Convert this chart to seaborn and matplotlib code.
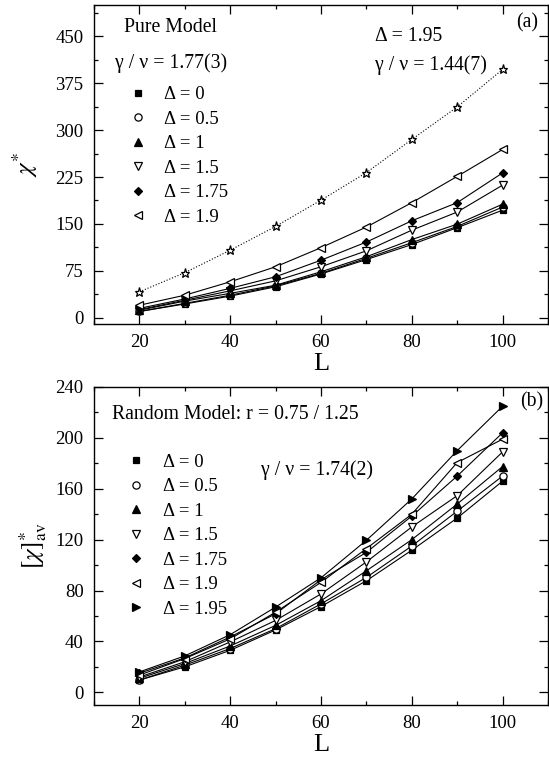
import matplotlib
matplotlib.use("Agg")
import matplotlib.pyplot as plt
from matplotlib.lines import Line2D
from matplotlib.ticker import MultipleLocator
import seaborn as sns

# System sizes
L = [20, 30, 40, 50, 60, 70, 80, 90, 100]

# Pure model: chi* for each anisotropy Delta
pure_d0 = [10, 22, 34.6, 49.5, 70, 93, 117, 144, 172]
pure_d05 = [10, 23, 36, 51, 71, 95, 120, 146, 177]
pure_d1 = [12, 26.6, 39, 52, 73.5, 97.5, 125, 149.6, 181.6]
pure_d15 = [13, 28, 43, 59, 81.5, 107, 140, 169, 212]
pure_d175 = [15, 30, 47, 65.5, 92, 121, 155, 184, 231.6]
pure_d19 = [20, 36, 57.5, 81.5, 112, 145, 184, 226, 269]
pure_d195 = [41.5, 72, 108, 146, 188, 232, 285, 337, 397]

# Random model: disorder-averaged [chi]*_av
rand_d0 = [9.6, 20, 33, 49, 67.4, 87.7, 111.7, 137, 166]
rand_d05 = [9.6, 21.3, 34.4, 50, 69.5, 90.3, 115, 142.4, 170]
rand_d1 = [11, 22.6, 36.4, 52.6, 72, 95.5, 120, 148, 177.5]
rand_d15 = [12, 24, 39.6, 56.5, 77.3, 102.5, 130, 154.6, 189]
rand_d175 = [15, 27, 43.5, 61.7, 88.5, 110, 138.5, 170, 204]
rand_d19 = [13.5, 26.5, 42, 63, 86.4, 113, 140, 180.6, 199]
rand_d195 = [16, 28.6, 45.3, 67, 90, 119.5, 152, 190, 224.9]

delta_labels = ["Δ = 0", "Δ = 0.5", "Δ = 1", "Δ = 1.5", "Δ = 1.75", "Δ = 1.9", "Δ = 1.95"]

# marker shape, filled?, marker size
styles = [("s", True, 4.6), ("o", False, 5.2), ("^", True, 6.0), ("v", False, 6.0),
          ("D", True, 4.5), ("<", False, 6.0), (">", True, 6.0)]

TXT = 14.2
LEG = 13.5

sns.set_theme(style="ticks")
plt.rcParams.update({
    "font.family": ["Liberation Serif", "DejaVu Serif"],
    "mathtext.fontset": "stix",
    "axes.edgecolor": "black",
    "axes.linewidth": 1.0,
    "text.color": "black",
    "axes.labelcolor": "black",
    "xtick.color": "black",
    "ytick.color": "black",
    "xtick.direction": "in",
    "ytick.direction": "in",
    "xtick.top": True,
    "ytick.right": True,
    "xtick.major.size": 6.5,
    "ytick.major.size": 6.5,
    "xtick.minor.size": 3.2,
    "ytick.minor.size": 3.2,
    "xtick.major.width": 0.9,
    "ytick.major.width": 0.9,
    "xtick.minor.width": 0.9,
    "ytick.minor.width": 0.9,
    "xtick.major.pad": 7.0,
    "ytick.major.pad": 7.5,
    "xtick.labelsize": 13.5,
    "ytick.labelsize": 13.5,
})

W, H = 549, 765
fig = plt.figure(figsize=(W / 100, H / 100), dpi=100)
ax1 = fig.add_axes([94 / W, 1 - 324 / H, 454 / W, 319 / H])
ax2 = fig.add_axes([94 / W, 1 - 705 / H, 454 / W, 318 / H])


def draw_series(ax, y, style, ls="-"):
    m, filled, ms = style
    sns.lineplot(x=L, y=y, ax=ax, color="black", linewidth=0.8, linestyle=ls,
                 marker=m, markersize=ms, markeredgecolor="black",
                 markerfacecolor="black" if filled else "white",
                 markeredgewidth=0.9, legend=False)


def legend_handles(n):
    hs = []
    for (m, filled, ms) in styles[:n]:
        hs.append(Line2D([], [], linestyle="none", marker=m, markersize=ms,
                         markeredgecolor="black", markeredgewidth=0.9,
                         markerfacecolor="black" if filled else "white"))
    return hs


def style_axes(ax, ymax, ymajor):
    ax.set_xlim(10, 110)
    ax.set_ylim(-10, ymax)
    ax.xaxis.set_major_locator(MultipleLocator(20))
    ax.xaxis.set_minor_locator(MultipleLocator(10))
    ax.yaxis.set_major_locator(MultipleLocator(ymajor))
    ax.yaxis.set_minor_locator(MultipleLocator(ymajor / 2))
    ax.tick_params(which="both", top=True, right=True, direction="in")
    for sp in ax.spines.values():
        sp.set_visible(True)
        sp.set_color("black")
    ax.set_xlabel("L", fontsize=19, labelpad=1.5)


def add_legend(ax, n, anchor):
    ax.legend(legend_handles(n), delta_labels[:n], loc="upper left",
              bbox_to_anchor=anchor, frameon=False, fontsize=LEG,
              handlelength=0.8, handletextpad=1.0, labelspacing=0.39,
              borderpad=0, borderaxespad=0)


# ---- (a) pure model ----
pure = [pure_d0, pure_d05, pure_d1, pure_d15, pure_d175, pure_d19]
for y, st in zip(pure, styles):
    draw_series(ax1, y, st)
draw_series(ax1, pure_d195, ("*", False, 6.5), ls=":")
style_axes(ax1, 500, 75)
ax1.set_ylabel(r"$\chi^{*}$", fontsize=18)
ax1.yaxis.set_label_coords(-0.12, 0.5)
add_legend(ax1, 6, (0.080, 0.745))
ax1.text(0.066, 0.931, "Pure Model", transform=ax1.transAxes, fontsize=TXT, va="center")
ax1.text(0.047, 0.818, "γ / ν = 1.77(3)", transform=ax1.transAxes, fontsize=TXT, va="center")
ax1.text(0.618, 0.900, "Δ = 1.95", transform=ax1.transAxes, fontsize=TXT, va="center")
ax1.text(0.618, 0.812, "γ / ν = 1.44(7)", transform=ax1.transAxes, fontsize=TXT, va="center")
ax1.text(0.930, 0.944, "(a)", transform=ax1.transAxes, fontsize=TXT, va="center")

# ---- (b) random model ----
rand = [rand_d0, rand_d05, rand_d1, rand_d15, rand_d175, rand_d19, rand_d195]
for y, st in zip(rand, styles):
    draw_series(ax2, y, st)
style_axes(ax2, 240, 40)
ax2.set_ylabel(r"$[\chi]^{*}_{\mathrm{av}}$", fontsize=18)
ax2.yaxis.set_label_coords(-0.10, 0.5)
add_legend(ax2, 7, (0.077, 0.79))
ax2.text(0.040, 0.912, "Random Model: r = 0.75 / 1.25", transform=ax2.transAxes,
         fontsize=TXT, va="center")
ax2.text(0.368, 0.739, "γ / ν = 1.74(2)", transform=ax2.transAxes, fontsize=TXT, va="center")
ax2.text(0.938, 0.953, "(b)", transform=ax2.transAxes, fontsize=TXT, va="center")

fig.savefig("out.png", dpi=100)
